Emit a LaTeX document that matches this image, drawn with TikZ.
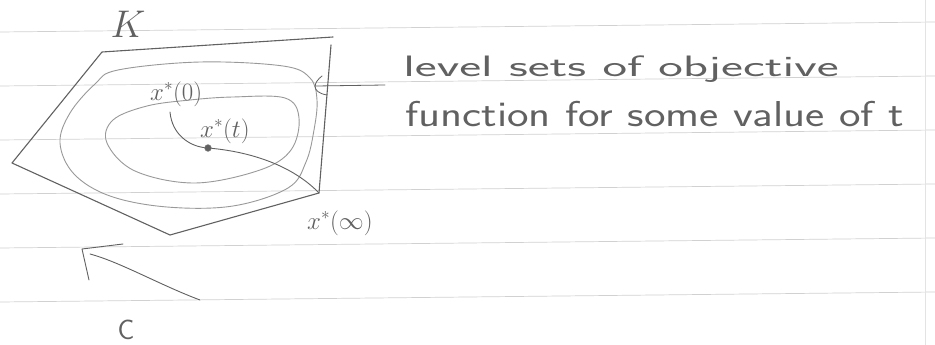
\documentclass[tikz,border=0pt]{standalone}
\usepackage{amssymb}

\colorlet{pencil}{black!62}
\colorlet{faint}{black!40}
\colorlet{rule}{black!18}

\tikzset{
  hand/.style={text=pencil,inner sep=0pt,transform shape,font=\fontsize{36}{40}\selectfont\sffamily},
  mathlbl/.style={text=pencil,inner sep=0pt,font=\fontsize{24}{28}\selectfont},
  ruled/.style={draw=rule,line width=0.7pt},
  stroke/.style={draw=pencil,line width=1.1pt,line cap=round,line join=round},
  level/.style={draw=faint,line width=0.9pt,line cap=round}
}

\begin{document}
\begin{tikzpicture}[x=1pt,y=-1pt]
\useasboundingbox (0,0) rectangle (935,345);
\fill[white] (0,0) rectangle (935,345);
% ruled paper
\foreach \y in {32,86,140,194,248,302} {\draw[ruled] (0,\y) -- (935,{\y-10});}
\draw[draw=rule!60,line width=0.5pt] (925,0) -- (925,345);

% the set K
\coordinate (k1) at (102,52);
\coordinate (k2) at (333,37);
\coordinate (k3) at (331,45);
\coordinate (k4) at (319,193);
\coordinate (k5) at (170,235);
\coordinate (k6) at (12,163);
\draw[stroke] (k2) -- (k1) -- (k6) -- (k5) -- (k4) -- (k3);
\node[mathlbl,scale=1.55,transform shape] (lblK) at (128,24) {$K$};

% level sets
\draw[level] plot[smooth cycle,tension=0.6] coordinates {(118,70) (200,62) (283,66) (310,78) (317,100) (314,130) (306,162) (288,188) (233,206) (167,207) (110,196) (74,174) (60,143) (70,113) (95,84)};
\draw[level] plot[smooth cycle,tension=0.6] coordinates {(147,106) (190,100) (233,97) (285,98) (299,118) (291,150) (260,170) (195,183) (135,171) (107,143) (113,120)};

% central path
\node[circle,fill=pencil,draw=faint,minimum size=7pt,inner sep=0pt] (xt) at (208,148) {};
\coordinate (x0) at (170,112);
\draw[stroke,line width=0.9pt] (x0) .. controls (172,135) and (190,146) .. (xt);
\draw[stroke,line width=0.9pt] (xt) .. controls (250,152) and (292,165) .. (k4);

\node[mathlbl,anchor=base west] (lbl0) at (150,100) {$x^*(0)$};
\node[mathlbl,anchor=base west] (lblt) at (200,137) {$x^*(t)$};
\node[mathlbl,anchor=base west] (lblinf) at (307,229) {$x^*(\infty)$};

% pointer to the level sets
\node[hand,anchor=base west,xscale=1.45,yscale=0.82] (note1) at (403,77) {level sets of objective};
\node[hand,anchor=base west,xscale=1.27] (note2) at (405,126) {function for some value of t};
\coordinate (hook) at (316,86);
\draw[stroke,line width=0.8pt] (385,85) -- (hook);
\draw[stroke,line width=0.8pt] (322,76) .. controls (314,82) and (310,92) .. (327,95);

% the cone C
\coordinate (ctail) at (200,300);
\coordinate (ctip) at (82,249);
\coordinate (cshaft) at (90,254);
\draw[stroke,line width=0.9pt] (ctail) .. controls (160,285) and (120,262) .. (cshaft);
\draw[stroke,line width=0.9pt] (123,244) -- (ctip) -- (89,280);
\node[mathlbl,anchor=base,font=\fontsize{28}{32}\selectfont\sffamily] (lblC) at (126,339) {C};
\end{tikzpicture}
\end{document}
